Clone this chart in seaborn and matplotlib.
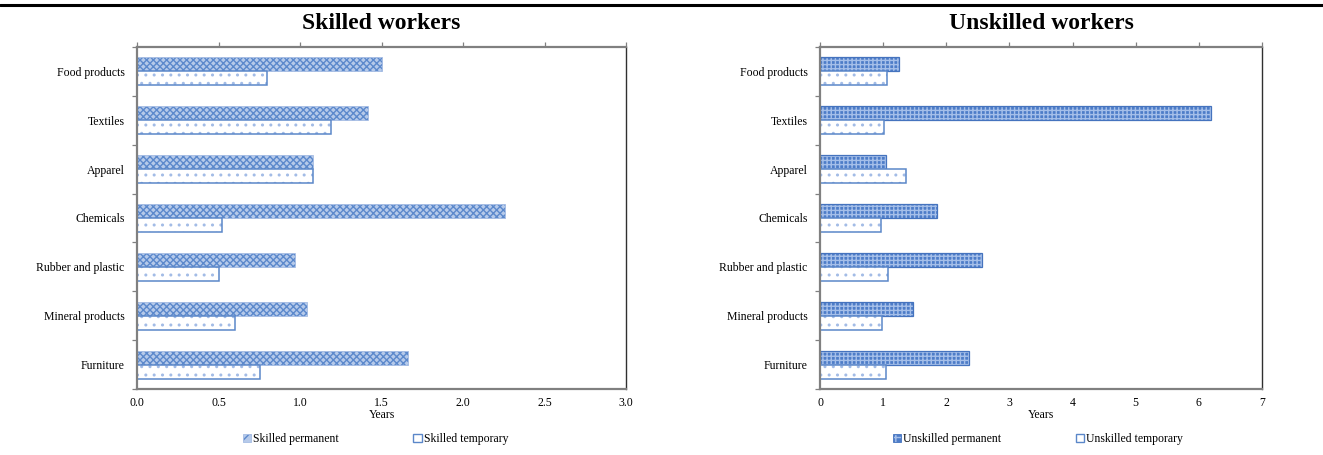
import matplotlib
matplotlib.use("Agg")
import matplotlib.pyplot as plt
from matplotlib.lines import Line2D
from matplotlib.patches import Patch
import seaborn as sns
import pandas as pd

# Industries and average tenure (years) by contract type
industries = ["Food products", "Textiles", "Apparel", "Chemicals",
              "Rubber and plastic", "Mineral products", "Furniture"]
skilled_permanent = [1.50, 1.42, 1.08, 2.26, 0.97, 1.04, 1.66]
skilled_temporary = [0.80, 1.19, 1.08, 0.52, 0.50, 0.60, 0.755]
unskilled_permanent = [1.25, 6.20, 1.05, 1.86, 2.57, 1.48, 2.36]
unskilled_temporary = [1.06, 1.01, 1.36, 0.97, 1.07, 0.98, 1.05]

skilled_ticks = [0.0, 0.5, 1.0, 1.5, 2.0, 2.5, 3.0]
skilled_ticklabels = ["0.0", "0.5", "1.0", "1.5", "2.0", "2.5", "3.0"]
unskilled_ticks = [0, 1, 2, 3, 4, 5, 6, 7]
unskilled_ticklabels = ["0", "1", "2", "3", "4", "5", "6", "7"]

sns.set_style("white")
plt.rcParams["font.family"] = ["Liberation Serif", "DejaVu Serif"]
plt.rcParams["hatch.linewidth"] = 1.0
plt.rcParams["text.color"] = "black"
plt.rcParams["axes.labelcolor"] = "black"
plt.rcParams["xtick.labelcolor"] = "black"
plt.rcParams["ytick.labelcolor"] = "black"

fig = plt.figure(figsize=(13.23, 4.55), dpi=100)
ax_l = fig.add_axes([137 / 1323, 66 / 455, 489 / 1323, 342 / 455])
ax_r = fig.add_axes([820 / 1323, 66 / 455, 442 / 1323, 342 / 455])

# rule across the top of the figure
fig.add_artist(Line2D([0, 1], [1 - 5 / 455, 1 - 5 / 455], transform=fig.transFigure,
                      color="black", linewidth=2.2))

EDGE = "#5B87C9"
TEMP_DOTS = "#A3BCE6"


def long_frame(perm, temp, perm_name, temp_name):
    return pd.DataFrame({
        "industry": industries * 2,
        "years": list(perm) + list(temp),
        "type": [perm_name] * len(industries) + [temp_name] * len(industries),
    })


def style_bars(container, face, hatch, hatch_color, edge, lw):
    for p in container:
        p.set_facecolor(face)
        p.set_edgecolor(edge)
        p.set_linewidth(lw)
        p.set_hatch(hatch)
        p._hatch_color = matplotlib.colors.to_rgba(hatch_color)


panels = [
    (ax_l, "Skilled workers", skilled_permanent, skilled_temporary,
     "Skilled permanent", "Skilled temporary", skilled_ticks, skilled_ticklabels,
     dict(face="#B6CAEA", hatch="xxxxx", hatch_color="#5C89CC", edge="#A6BDE4", lw=0.6),
     0.488),
    (ax_r, "Unskilled workers", unskilled_permanent, unskilled_temporary,
     "Unskilled permanent", "Unskilled temporary", unskilled_ticks, unskilled_ticklabels,
     dict(face="#4E7DC8", hatch="++++", hatch_color="#A5BFE9", edge="#4573BE", lw=0.9),
     0.493),
]

for ax, title, perm, temp, pname, tname, ticks, ticklabels, pstyle, legx in panels:
    df = long_frame(perm, temp, pname, tname)
    sns.barplot(data=df, y="industry", x="years", hue="type", order=industries,
                hue_order=[pname, tname], orient="h", width=0.574, dodge=True,
                ax=ax, legend=False, errorbar=None)
    style_bars(ax.containers[0], **pstyle)
    style_bars(ax.containers[1], face="white", hatch="..", hatch_color=TEMP_DOTS,
               edge=EDGE, lw=1.1)

    ax.set_xlim(ticks[0], ticks[-1])
    ax.set_ylim(len(industries) - 0.5, -0.5)
    ax.set_xticks(ticks)
    ax.set_xticklabels(ticklabels, fontsize=8.5)
    ax.set_yticks([i + 0.5 for i in range(-1, len(industries))], minor=False)
    ax.set_yticklabels([])
    ax.set_yticks(range(len(industries)), minor=True)
    ax.set_yticklabels(industries, minor=True, fontsize=8.5)
    ax.tick_params(axis="y", which="major", left=True, length=3.5, width=0.9,
                   color="#808080", direction="out")
    ax.tick_params(axis="y", which="minor", left=False, length=0, pad=9)
    ax.tick_params(axis="x", which="major", bottom=False, top=True, labelbottom=True,
                   labeltop=False, length=3.5, width=0.9, color="#808080",
                   direction="out", pad=2)
    ax.set_ylabel("")
    ax.set_xlabel("Years", fontsize=8.5, labelpad=0)
    ax.set_title(title, fontsize=17, fontweight="bold", pad=13, color="black")
    for side in ["left", "top", "bottom"]:
        ax.spines[side].set_color("#808080")
        ax.spines[side].set_linewidth(1.6)
    ax.spines["right"].set_color("#303030")
    ax.spines["right"].set_linewidth(1.0)
    ax.grid(False)

    handles = [
        Patch(facecolor=pstyle["face"], edgecolor=pstyle["edge"],
              hatch="xx" if ax is ax_l else "++", linewidth=0.6),
        Patch(facecolor="white", edgecolor=EDGE, linewidth=1.0),
    ]
    leg = ax.legend(handles, [pname, tname], loc="upper center",
                    bbox_to_anchor=(legx, -0.115), ncol=2, frameon=False,
                    fontsize=8.5, handlelength=0.7, handleheight=0.7,
                    handletextpad=0.2, columnspacing=6.3, borderaxespad=0)
    hatch_rgba = matplotlib.colors.to_rgba(pstyle["hatch_color"])
    leg.legend_handles[0]._hatch_color = hatch_rgba

fig.savefig("out.png", dpi=100)
